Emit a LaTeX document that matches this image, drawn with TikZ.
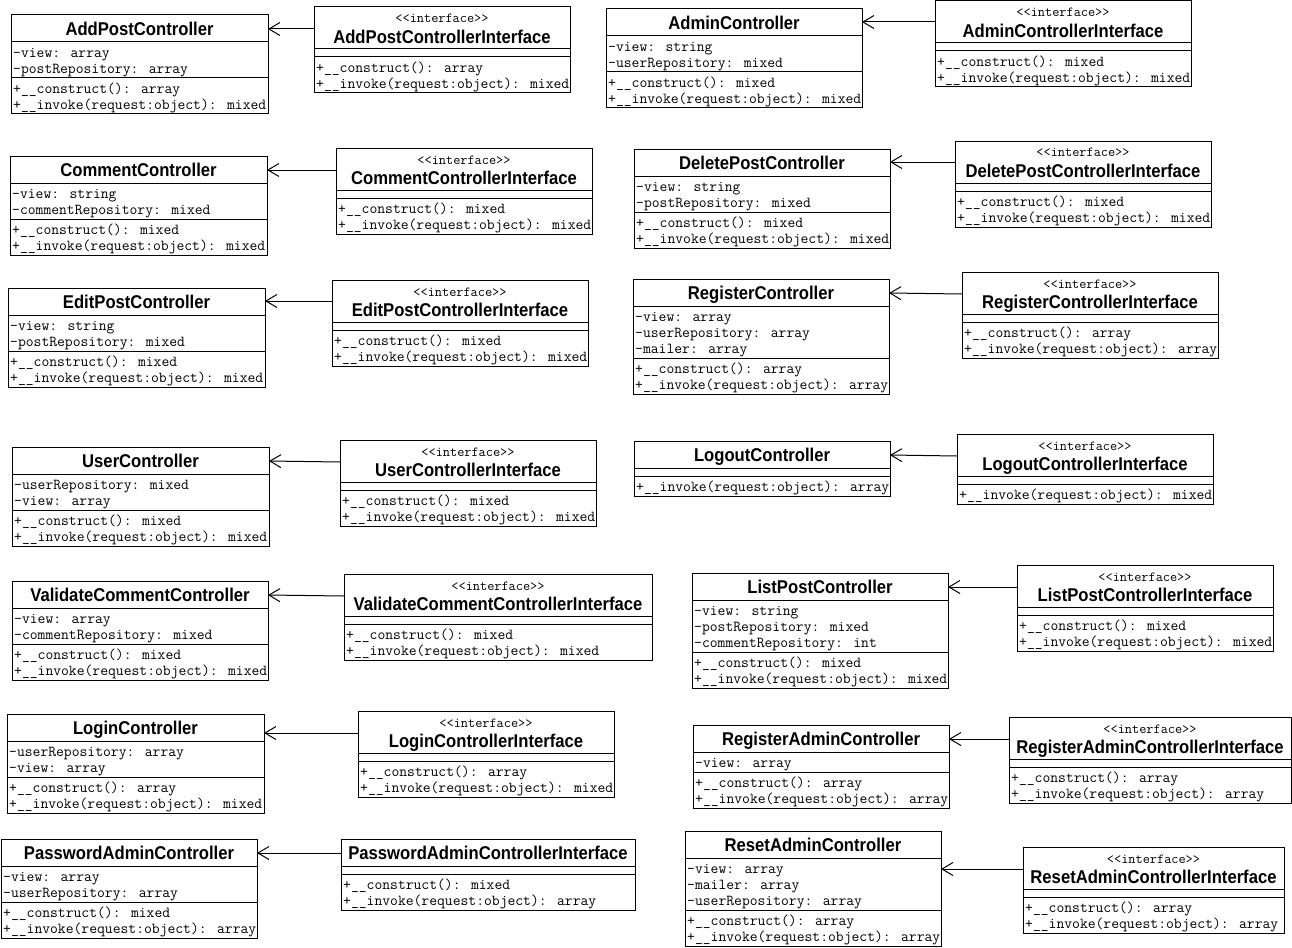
\documentclass[tikz,border=0pt]{standalone}
\usepackage{fontspec}
\setmainfont{Liberation Sans}
\newfontfamily\utitlefont{Liberation Sans}[FakeStretch=0.9]
\usetikzlibrary{arrows.meta}
\tikzset{
  clsbox/.style={draw, line width=1pt, inner sep=0pt, outer sep=0pt, anchor=north west},
  divline/.style={line width=1pt},
  titletext/.style={font={\utitlefont\bfseries\fontsize{18.5}{20}\selectfont}, inner sep=0pt, anchor=base},
  stereotext/.style={font={\ttfamily\fontsize{13.9}{16}\selectfont}, inner sep=0pt, anchor=base},
  rowtext/.style={font={\ttfamily\fontsize{15.2}{17}\selectfont}, inner sep=0pt, anchor=base west, xshift=2pt},
  realize/.style={line width=1pt, -{Straight Barb[length=11pt,width=13pt,line width=1pt]}},
}
\newcommand{\umlclass}[9]{%
  \pgfmathsetmacro\uTH{#5==1 ? 42 : 27}%
  \pgfmathsetmacro\uYa{#3+\uTH}%
  \pgfmathsetmacro\uYb{#7==0 ? \uYa+8 : \uYa+16*#7+4}%
  \gdef\uNM{0}%
  \foreach \m [count=\k] in {#9} {\xdef\uNM{\k}}%
  \pgfmathsetmacro\uYc{\uYb+16*\uNM+4}%
  \pgfmathsetmacro\uH{\uYc-#3}%
  \node[clsbox, minimum width=#4pt, minimum height=\uH pt] (#1) at (#2,#3) {};
  \draw[divline] (#1.west |- 0,\uYa) -- (#1.east |- 0,\uYa);
  \draw[divline] (#1.west |- 0,\uYb) -- (#1.east |- 0,\uYb);
  \ifnum#5=1
    \pgfmathsetmacro\uS{#3+11+5}%
    \node[stereotext] at (#1.north |- 0,\uS) {<<interface>>};
    \pgfmathsetmacro\uT{#3+30+6.5}%
  \else
    \pgfmathsetmacro\uT{#3+14+6.5}%
  \fi
  \node[titletext] at (#1.north |- 0,\uT) {#6};
  \ifnum#7>0
    \foreach \a [count=\k] in {#8} {%
      \pgfmathsetmacro\uR{\uYa+16*\k-6+5.5}%
      \node[rowtext] at (#1.west |- 0,\uR) {\a};}%
  \fi
  \foreach \m [count=\k] in {#9} {%
      \pgfmathsetmacro\uR{\uYb+16*\k-6+5.5}%
      \node[rowtext] at (#1.west |- 0,\uR) {\m};}%
}
\begin{document}
\begin{tikzpicture}[x=1pt,y=-1pt]
\useasboundingbox[fill=white] (0,0) rectangle (1292,947);

\umlclass{cAddPost}{11}{15}{257}{0}{AddPostController}{2}{-view: array,-postRepository: array}{+\_\_construct(): array,+\_\_invoke(request:object): mixed}
\umlclass{iAddPost}{314}{7}{256}{1}{AddPostControllerInterface}{0}{}{+\_\_construct(): array,+\_\_invoke(request:object): mixed}
\umlclass{cAdmin}{606}{9}{256}{0}{AdminController}{2}{-view: string,-userRepository: mixed}{+\_\_construct(): mixed,+\_\_invoke(request:object): mixed}
\umlclass{iAdmin}{935}{1}{256}{1}{AdminControllerInterface}{0}{}{+\_\_construct(): mixed,+\_\_invoke(request:object): mixed}
\umlclass{cComment}{10}{156}{257}{0}{CommentController}{2}{-view: string,-commentRepository: mixed}{+\_\_construct(): mixed,+\_\_invoke(request:object): mixed}
\umlclass{iComment}{336}{148}{256}{1}{CommentControllerInterface}{0}{}{+\_\_construct(): mixed,+\_\_invoke(request:object): mixed}
\umlclass{cDeletePost}{634}{149}{256}{0}{DeletePostController}{2}{-view: string,-postRepository: mixed}{+\_\_construct(): mixed,+\_\_invoke(request:object): mixed}
\umlclass{iDeletePost}{955}{141}{256}{1}{DeletePostControllerInterface}{0}{}{+\_\_construct(): mixed,+\_\_invoke(request:object): mixed}
\umlclass{cEditPost}{8}{288}{257}{0}{EditPostController}{2}{-view: string,-postRepository: mixed}{+\_\_construct(): mixed,+\_\_invoke(request:object): mixed}
\umlclass{iEditPost}{332}{280}{256}{1}{EditPostControllerInterface}{0}{}{+\_\_construct(): mixed,+\_\_invoke(request:object): mixed}
\umlclass{cRegister}{633}{279}{256}{0}{RegisterController}{3}{-view: array,-userRepository: array,-mailer: array}{+\_\_construct(): array,+\_\_invoke(request:object): array}
\umlclass{iRegister}{962}{272}{256}{1}{RegisterControllerInterface}{0}{}{+\_\_construct(): array,+\_\_invoke(request:object): array}
\umlclass{cUser}{12}{447}{257}{0}{UserController}{2}{-userRepository: mixed,-view: array}{+\_\_construct(): mixed,+\_\_invoke(request:object): mixed}
\umlclass{iUser}{340}{440}{256}{1}{UserControllerInterface}{0}{}{+\_\_construct(): mixed,+\_\_invoke(request:object): mixed}
\umlclass{cLogout}{634}{441}{256}{0}{LogoutController}{0}{}{+\_\_invoke(request:object): array}
\umlclass{iLogout}{957}{434}{256}{1}{LogoutControllerInterface}{0}{}{+\_\_invoke(request:object): mixed}
\umlclass{cValidate}{12}{581}{256}{0}{ValidateCommentController}{2}{-view: array,-commentRepository: mixed}{+\_\_construct(): mixed,+\_\_invoke(request:object): mixed}
\umlclass{iValidate}{344}{574}{308}{1}{ValidateCommentControllerInterface}{0}{}{+\_\_construct(): mixed,+\_\_invoke(request:object): mixed}
\umlclass{cListPost}{692}{573}{256}{0}{ListPostController}{3}{-view: string,-postRepository: mixed,-commentRepository: int}{+\_\_construct(): mixed,+\_\_invoke(request:object): mixed}
\umlclass{iListPost}{1017}{565}{256}{1}{ListPostControllerInterface}{0}{}{+\_\_construct(): mixed,+\_\_invoke(request:object): mixed}
\umlclass{cLogin}{7}{714}{257}{0}{LoginController}{2}{-userRepository: array,-view: array}{+\_\_construct(): array,+\_\_invoke(request:object): mixed}
\umlclass{iLogin}{358}{711}{256}{1}{LoginControllerInterface}{0}{}{+\_\_construct(): array,+\_\_invoke(request:object): mixed}
\umlclass{cRegisterAdmin}{693}{725}{256}{0}{RegisterAdminController}{1}{-view: array}{+\_\_construct(): array,+\_\_invoke(request:object): array}
\umlclass{iRegisterAdmin}{1009}{717}{282}{1}{RegisterAdminControllerInterface}{0}{}{+\_\_construct(): array,+\_\_invoke(request:object): array}
\umlclass{cPasswordAdmin}{1}{839}{256}{0}{PasswordAdminController}{2}{-view: array,-userRepository: array}{+\_\_construct(): mixed,+\_\_invoke(request:object): array}
\umlclass{iPasswordAdmin}{341}{839}{294}{0}{PasswordAdminControllerInterface}{0}{}{+\_\_construct(): mixed,+\_\_invoke(request:object): array}
\umlclass{cResetAdmin}{685}{831}{256}{0}{ResetAdminController}{3}{-view: array,-mailer: array,-userRepository: array}{+\_\_construct(): array,+\_\_invoke(request:object): array}
\umlclass{iResetAdmin}{1023}{847}{261}{1}{ResetAdminControllerInterface}{0}{}{+\_\_construct(): array,+\_\_invoke(request:object): array}

\draw[realize] (iAddPost.west |- 0,29) -- (cAddPost.east |- 0,29);
\draw[realize] (iAdmin.west |- 0,22) -- (cAdmin.east |- 0,22);
\draw[realize] (iComment.west |- 0,170) -- (cComment.east |- 0,170);
\draw[realize] (iDeletePost.west |- 0,162) -- (cDeletePost.east |- 0,162);
\draw[realize] (iEditPost.west |- 0,301) -- (cEditPost.east |- 0,301);
\draw[realize] (iRegister.west |- 0,294) -- (cRegister.east |- 0,293);
\draw[realize] (iUser.west |- 0,462) -- (cUser.east |- 0,461);
\draw[realize] (iLogout.west |- 0,456) -- (cLogout.east |- 0,455);
\draw[realize] (iValidate.west |- 0,596) -- (cValidate.east |- 0,595);
\draw[realize] (iListPost.west |- 0,587) -- (cListPost.east |- 0,587);
\draw[realize] (iLogin.west |- 0,733) -- (cLogin.east |- 0,733);
\draw[realize] (iRegisterAdmin.west |- 0,739) -- (cRegisterAdmin.east |- 0,739);
\draw[realize] (iPasswordAdmin.west |- 0,853) -- (cPasswordAdmin.east |- 0,853);
\draw[realize] (iResetAdmin.west |- 0,869) -- (cResetAdmin.east |- 0,869);
\end{tikzpicture}
\end{document}
